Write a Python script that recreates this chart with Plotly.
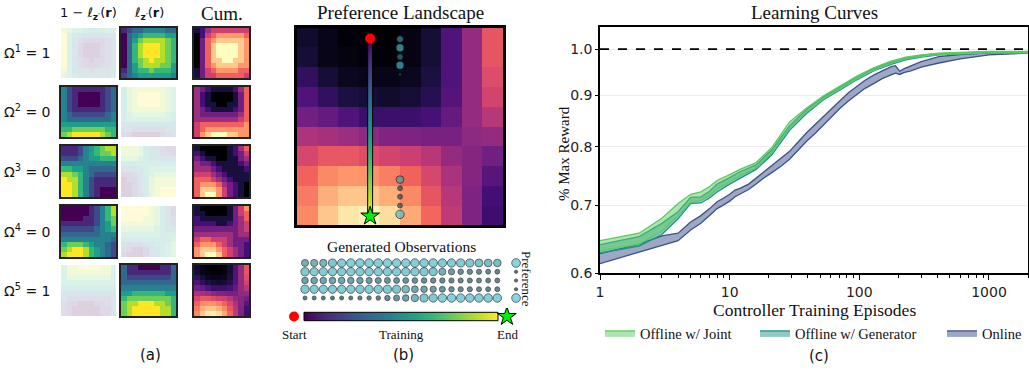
import numpy as np
import plotly.graph_objects as go

W, H = 1029, 371
SERIF = "Liberation Serif"
SANS = "DejaVu Sans"

# ---------------- Panel (a) data ----------------
omega = [1, 0, 0, 0, 1]
# map selected by Omega (bordered map), digits 0-9 (value = d/9)
sel1 = [[1,2,3,3,4,4,4,4,3,3],
        [0,3,4,5,6,6,6,6,5,5],
        [0,3,5,7,8,8,8,8,7,6],
        [0,3,6,8,9,9,9,8,7,6],
        [0,3,6,8,9,9,9,8,7,6],
        [0,3,6,8,9,9,9,8,7,6],
        [0,3,6,7,8,9,8,8,7,6],
        [0,3,5,7,8,8,8,7,7,5],
        [1,3,5,6,6,7,6,6,6,5],
        [2,3,4,5,5,5,5,5,5,4]]
sel2 = [[4,2,1,1,1,1,1,1,2,3],
        [4,2,1,0,0,0,0,1,2,3],
        [4,2,1,0,0,0,0,1,2,3],
        [4,2,1,0,0,0,0,1,2,3],
        [4,2,1,1,1,1,1,1,2,3],
        [4,3,2,2,2,2,2,2,3,4],
        [4,3,3,3,3,3,3,3,3,4],
        [5,5,5,5,5,5,5,5,5,5],
        [6,6,7,7,7,7,7,7,6,6],
        [7,8,9,9,9,9,9,8,7,6]]
sel3 = [[1,1,1,2,4,5,6,7,8,8],
        [1,1,1,2,4,5,6,7,7,8],
        [2,2,2,3,4,5,5,6,6,6],
        [4,4,4,4,4,4,4,4,4,4],
        [6,6,5,5,4,3,3,3,3,3],
        [8,8,7,6,4,3,2,2,2,2],
        [9,8,8,6,4,2,1,1,1,1],
        [9,9,8,6,4,2,1,1,1,1],
        [9,9,8,6,4,2,1,0,0,0],
        [9,9,8,6,4,2,1,0,0,0]]
sel4 = [[0,0,0,0,0,1,2,4,6,8],
        [0,0,0,0,0,1,2,4,6,8],
        [0,0,0,0,1,1,2,4,6,7],
        [1,1,1,1,1,1,2,4,5,7],
        [2,2,2,2,2,2,3,4,5,6],
        [3,3,3,3,3,3,3,4,4,4],
        [4,4,4,4,4,4,4,4,4,3],
        [6,7,7,7,6,5,4,4,3,2],
        [7,8,9,9,8,6,5,4,3,2],
        [8,9,9,9,8,6,5,4,3,2]]
sel5 = [[3,1,1,0,0,0,0,1,1,3],
        [3,1,1,1,1,1,1,1,1,3],
        [3,2,2,2,2,2,2,2,2,3],
        [3,3,3,3,3,3,3,3,3,3],
        [4,4,4,4,4,4,4,4,4,4],
        [5,5,6,6,6,6,6,6,5,5],
        [6,7,7,7,7,7,7,7,7,6],
        [7,8,8,9,9,9,8,8,7,6],
        [7,8,9,9,9,9,9,8,8,6],
        [7,8,9,9,9,9,9,8,8,6]]
cum1 = [[1,2,4,5,5,5,5,5,5,5],
        [0,2,5,6,7,7,7,7,7,6],
        [0,3,6,7,8,8,8,8,8,7],
        [0,3,6,8,9,9,9,9,8,7],
        [0,3,6,8,9,9,9,9,8,7],
        [0,3,6,8,9,9,9,9,8,7],
        [0,3,6,8,8,9,9,8,8,7],
        [0,3,6,7,8,8,8,8,7,7],
        [1,3,5,6,7,7,7,7,6,6],
        [1,3,5,5,6,6,6,6,6,5]]
cum2 = [[4,3,2,1,1,1,1,2,4,6],
        [4,2,1,0,0,0,0,1,3,6],
        [4,2,1,0,0,0,0,1,3,6],
        [4,2,1,1,0,0,1,1,3,6],
        [4,3,2,1,1,1,1,2,3,6],
        [4,3,3,3,3,3,3,3,4,6],
        [4,4,4,4,4,4,4,4,5,6],
        [5,6,6,6,6,6,6,6,6,7],
        [5,6,7,7,7,7,7,7,7,7],
        [5,7,8,9,9,9,8,8,7,7]]
cum3 = [[1,0,0,0,0,0,1,2,4,6],
        [2,1,0,0,0,0,1,2,3,5],
        [3,2,1,1,0,0,1,1,3,4],
        [4,3,3,2,1,1,1,1,2,3],
        [4,4,4,3,2,1,1,1,1,2],
        [5,5,5,4,3,2,1,1,1,1],
        [6,6,6,5,4,3,2,1,1,1],
        [6,7,7,7,6,4,3,2,1,0],
        [6,8,8,8,7,5,3,2,1,0],
        [6,8,9,9,7,5,3,2,1,0]]
cum4 = [[1,0,0,0,0,0,1,3,5,7],
        [1,1,0,0,0,0,1,3,5,6],
        [2,1,1,1,1,1,1,3,4,6],
        [2,2,2,2,1,1,2,3,4,5],
        [3,3,3,3,3,3,3,3,4,5],
        [4,4,4,4,4,4,4,3,4,4],
        [5,6,6,5,5,5,4,3,3,3],
        [6,7,7,7,6,5,4,3,3,2],
        [7,8,8,8,7,6,5,4,3,2],
        [7,8,9,9,8,6,5,4,3,2]]

# ---------------- Panel (b) data ----------------
landscape = [
    [0.08,0.04,0.01,0.00,0.00,0.03,0.10,0.25,0.42,0.63],
    [0.10,0.04,0.02,0.01,0.01,0.03,0.10,0.25,0.42,0.63],
    [0.18,0.10,0.05,0.04,0.04,0.05,0.12,0.25,0.42,0.60],
    [0.25,0.18,0.12,0.10,0.08,0.10,0.15,0.26,0.42,0.57],
    [0.33,0.30,0.25,0.20,0.20,0.20,0.23,0.30,0.42,0.50],
    [0.48,0.46,0.44,0.40,0.37,0.36,0.35,0.35,0.40,0.42],
    [0.58,0.64,0.64,0.60,0.57,0.55,0.50,0.42,0.38,0.33],
    [0.67,0.75,0.78,0.77,0.73,0.67,0.58,0.47,0.38,0.27],
    [0.72,0.83,0.88,0.88,0.83,0.75,0.63,0.50,0.36,0.22],
    [0.75,0.88,0.95,0.98,0.93,0.82,0.68,0.52,0.36,0.20]]
path_x = 3.05
path_start_y = 0.06
path_end_y = 9.05
obs_x = 4.5
obs_top_y = [0.09, 0.53, 0.99, 1.41, 1.88]
obs_bottom_y = [7.20, 7.64, 8.07, 8.52, 8.96]

obs_row1 = [0.70,0.72,0.75,0.88,0.92,0.95,0.95,0.95,0.95,0.95,0.95,0.95,0.95,0.95,0.95,0.93,0.92,0.90,0.88,0.85,0.82,0.80]
obs_row2 = [0.90,0.92,0.92,0.92,0.92,0.92,0.92,0.92,0.92,0.92,0.92,0.92,0.92,0.90,0.88,0.70,0.55,0.42,0.38,0.35,0.32,0.30]
obs_row3 = [0.60,0.62,0.62,0.62,0.62,0.60,0.58,0.55,0.52,0.50,0.48,0.46,0.44,0.42,0.40,0.38,0.36,0.34,0.33,0.32,0.31,0.30]
obs_row4 = [0.90,0.92,0.92,0.92,0.92,0.92,0.92,0.92,0.92,0.90,0.88,0.80,0.65,0.60,0.55,0.50,0.40,0.36,0.34,0.32,0.31,0.30]
obs_row5 = [0.15,0.15,0.15,0.15,0.15,0.15,0.18,0.20,0.25,0.40,0.50,0.60,0.75,0.88,0.92,0.95,0.95,0.95,0.95,0.95,0.95,0.95]
preference = [1, 0, 0, 0, 1]

# ---------------- Panel (c) data ----------------
ep_off = [1,2,3,4,5,6,7,8,10,12,16,21,29,39,53,71,95,130,176,228,300,411,600,1000,2000]
joint_hi = [0.646,0.657,0.680,0.703,0.718,0.722,0.731,0.741,0.751,0.760,0.772,0.798,0.847,0.874,0.899,0.919,0.940,0.959,0.973,0.982,0.987,0.991,0.993,0.995,0.995]
joint_lo = [0.631,0.641,0.660,0.684,0.705,0.708,0.716,0.727,0.739,0.749,0.763,0.789,0.836,0.866,0.893,0.913,0.934,0.954,0.968,0.978,0.984,0.988,0.990,0.992,0.992]
gen_hi = [0.640,0.652,0.672,0.690,0.713,0.714,0.723,0.735,0.746,0.756,0.768,0.794,0.840,0.871,0.897,0.917,0.938,0.957,0.971,0.980,0.986,0.990,0.992,0.994,0.994]
gen_lo = [0.628,0.638,0.655,0.679,0.703,0.704,0.712,0.722,0.735,0.745,0.760,0.785,0.831,0.863,0.891,0.911,0.932,0.952,0.966,0.976,0.982,0.987,0.989,0.991,0.991]
ep_on = [1,2,3,4,5,6,7,8,9,10,11,12,14,16,18,21,25,29,34,39,46,53,62,71,82,95,110,130,150,176,190,205,220,250,300,411,600,1000,1500,2000]
online_hi = [0.627,0.641,0.653,0.657,0.674,0.684,0.695,0.706,0.712,0.718,0.725,0.728,0.735,0.745,0.754,0.765,0.779,0.792,0.810,0.826,0.843,0.858,0.875,0.891,0.905,0.918,0.931,0.943,0.952,0.961,0.963,0.951,0.956,0.962,0.972,0.983,0.988,0.992,0.993,0.994]
online_lo = [0.613,0.629,0.639,0.646,0.662,0.672,0.684,0.695,0.701,0.707,0.714,0.718,0.726,0.735,0.744,0.754,0.766,0.778,0.795,0.810,0.826,0.841,0.858,0.874,0.888,0.901,0.914,0.925,0.935,0.943,0.947,0.944,0.948,0.952,0.960,0.969,0.978,0.987,0.990,0.991]
x_ticks = [1, 10, 100, 1000]
y_ticks = [0.6, 0.7, 0.8, 0.9, 1.0]
max_reward = 1.0

# ---------------- figure ----------------
fig = go.Figure()
axn = [0]

def new_axes(x0, x1, y0, y1):
    axn[0] += 1
    n = axn[0]
    s = "" if n == 1 else str(n)
    xk, yk = "xaxis" + s, "yaxis" + s
    fig.update_layout({
        xk: dict(domain=[x0 / W, x1 / W], anchor="y" + s),
        yk: dict(domain=[1 - y1 / H, 1 - y0 / H], anchor="x" + s),
    })
    return "x" + s, "y" + s, xk, yk

def heat_axes(x0, x1, y0, y1, border, lw=2, lc="#222"):
    xn, yn, xk, yk = new_axes(x0, x1, y0, y1)
    common = dict(showgrid=False, zeroline=False, showticklabels=False, ticks="",
                  showline=border, mirror=border, linewidth=lw, linecolor=lc)
    fig.update_layout({xk: dict(range=[-0.5, 9.5], **common),
                       yk: dict(range=[9.5, -0.5], **common)})
    return xn, yn

cols_x = [(61, 116), (121, 176), (194, 249)]
rows_y = [(28, 78), (87, 137), (146, 197), (206, 257), (265, 316)]
sels = [sel1, sel2, sel3, sel4, sel5]
cums = [np.array(cum1) / 9, np.array(cum2) / 9, np.array(cum3) / 9, np.array(cum4) / 9,
        np.array(landscape)]

for k in range(5):
    s = np.array(sels[k]) / 9.0
    if omega[k] == 1:
        maps = [(1 - s, False), (s, True)]
    else:
        maps = [(s, True), (1 - s, False)]
    y0, y1 = rows_y[k]
    for c in range(2):
        z, active = maps[c]
        xn, yn = heat_axes(cols_x[c][0], cols_x[c][1], y0, y1, active)
        fig.add_trace(go.Heatmap(z=z, colorscale="Viridis", zmin=0, zmax=1, showscale=False,
                                 opacity=1.0 if active else 0.18, xaxis=xn, yaxis=yn,
                                 hoverinfo="skip"))
    xn, yn = heat_axes(cols_x[2][0], cols_x[2][1], y0, y1, True)
    fig.add_trace(go.Heatmap(z=cums[k], colorscale="Magma", zmin=0, zmax=1, showscale=False,
                             xaxis=xn, yaxis=yn, hoverinfo="skip"))

# ---- panel (b) landscape ----
dot_scale = [[0, "#163036"], [0.5, "#2b6b74"], [1, "#52c6d4"]]

def dot_marker(vals):
    v = np.array(vals, dtype=float)
    return dict(size=3.2 + 5.5 * v, color=v, colorscale=dot_scale, cmin=0, cmax=1,
                line=dict(color="black", width=0.8))

xn, yn = heat_axes(297, 503, 27.5, 225, True, lw=3, lc="black")
fig.add_trace(go.Heatmap(z=landscape, colorscale="Magma", zmin=0, zmax=1, showscale=False,
                         xaxis=xn, yaxis=yn, hoverinfo="skip"))
hw = 0.12
fig.add_trace(go.Scatter(
    x=[path_x - hw, path_x + hw, path_x + hw, path_x - hw, path_x - hw],
    y=[path_start_y, path_start_y, path_end_y, path_end_y, path_start_y],
    mode="lines", fill="toself", line=dict(color="black", width=1),
    fillgradient=dict(type="vertical", colorscale="Viridis", start=path_start_y, stop=path_end_y),
    xaxis=xn, yaxis=yn, showlegend=False, hoverinfo="skip"))
first_col = [r[0] for r in (obs_row1, obs_row2, obs_row3, obs_row4, obs_row5)]
last_col = [r[-1] for r in (obs_row1, obs_row2, obs_row3, obs_row4, obs_row5)]
fig.add_trace(go.Scatter(x=[obs_x] * 5, y=obs_top_y, mode="markers", marker=dot_marker(first_col),
                         xaxis=xn, yaxis=yn, showlegend=False, hoverinfo="skip"))
fig.add_trace(go.Scatter(x=[obs_x] * 5, y=obs_bottom_y, mode="markers", marker=dot_marker(last_col),
                         xaxis=xn, yaxis=yn, showlegend=False, hoverinfo="skip"))
fig.add_trace(go.Scatter(x=[path_x], y=[path_start_y], mode="markers",
                         marker=dict(color="#ff0000", size=10), xaxis=xn, yaxis=yn,
                         showlegend=False, hoverinfo="skip"))
fig.add_trace(go.Scatter(x=[path_x], y=[path_end_y], mode="markers",
                         marker=dict(color="#00ee00", size=14, symbol="star",
                                     line=dict(color="black", width=1)),
                         xaxis=xn, yaxis=yn, showlegend=False, hoverinfo="skip"))

# ---- panel (b) generated observations ----
xn, yn, xk, yk = new_axes(285, 545, 255, 305)
fig.update_layout({xk: dict(range=[(285 - 305) / 9.157, (545 - 305) / 9.157], visible=False),
                   yk: dict(range=[(305 - 263) / 8.75, (255 - 263) / 8.75], visible=False)})
gx, gy, gv = [], [], []
for r, row in enumerate((obs_row1, obs_row2, obs_row3, obs_row4, obs_row5)):
    for i, v in enumerate(row):
        gx.append(i); gy.append(r); gv.append(v)
fig.add_trace(go.Scatter(x=gx, y=gy, mode="markers", marker=dot_marker(gv),
                         xaxis=xn, yaxis=yn, showlegend=False, hoverinfo="skip"))
fig.add_trace(go.Scatter(x=[23.05] * 5, y=list(range(5)), mode="markers",
                         marker=dot_marker(preference), xaxis=xn, yaxis=yn,
                         showlegend=False, hoverinfo="skip"))

# ---- panel (b) training colour bar ----
xn, yn, xk, yk = new_axes(285, 545, 308, 328)
fig.update_layout({xk: dict(range=[(285 - 304) / 194, (545 - 304) / 194], visible=False),
                   yk: dict(range=[0, 1], visible=False)})
fig.add_trace(go.Scatter(x=[0, 1, 1, 0, 0], y=[0.365, 0.365, 0.785, 0.785, 0.365],
                         mode="lines", fill="toself", line=dict(color="black", width=1),
                         fillgradient=dict(type="horizontal", colorscale="Viridis", start=0, stop=1),
                         xaxis=xn, yaxis=yn, showlegend=False, hoverinfo="skip"))
fig.add_trace(go.Scatter(x=[-0.0515], y=[0.575], mode="markers",
                         marker=dict(color="#ff0000", size=10), xaxis=xn, yaxis=yn,
                         showlegend=False, hoverinfo="skip"))
fig.add_trace(go.Scatter(x=[1.046], y=[0.575], mode="markers",
                         marker=dict(color="#00ee00", size=14, symbol="star",
                                     line=dict(color="black", width=1)),
                         xaxis=xn, yaxis=yn, showlegend=False, hoverinfo="skip"))

# ---- panel (c) learning curves ----
xn, yn, xk, yk = new_axes(600, 1028, 27, 273)
fig.update_layout({
    xk: dict(type="log", range=[0, np.log10(2000)], tickvals=x_ticks,
             ticktext=[str(t) for t in x_ticks], ticks="outside", ticklen=5, tickwidth=1,
             tickcolor="black", showline=True, linecolor="black", linewidth=1.5, mirror=True,
             showgrid=False, zeroline=False,
             minor=dict(tickvals=[m * d for d in (1, 10, 100) for m in range(2, 10)] + [2000],
                        ticks="outside", ticklen=3, tickcolor="black", showgrid=False),
             tickfont=dict(family=SANS, size=14, color="#222")),
    yk: dict(type="log", range=[np.log10(0.6), np.log10(1.052)], tickvals=y_ticks,
             ticktext=["%.1f" % t for t in y_ticks], ticks="outside", ticklen=3,
             tickcolor="black", showline=True, linecolor="black", linewidth=1.5, mirror=True,
             showgrid=True, gridcolor="#ececec", zeroline=False,
             tickfont=dict(family=SANS, size=14, color="#222")),
})
series = [
    ("Online", ep_on, online_lo, online_hi, "#3b528b", "rgba(59,82,139,0.5)", "legend3"),
    ("Offline w/ Generator", ep_off, gen_lo, gen_hi, "#21918c", "rgba(33,145,140,0.5)", "legend2"),
    ("Offline w/ Joint", ep_off, joint_lo, joint_hi, "#5ec962", "rgba(94,201,98,0.5)", "legend"),
]
for name, ex, lo, hi, lc, fc, lg in series:
    fig.add_trace(go.Scatter(x=ex, y=lo, mode="lines", line=dict(color=lc, width=1.3),
                             xaxis=xn, yaxis=yn, showlegend=False, hoverinfo="skip"))
    fig.add_trace(go.Scatter(x=ex, y=hi, mode="lines", line=dict(color=lc, width=1.3),
                             fill="tonexty", fillcolor=fc, name=name, legend=lg,
                             xaxis=xn, yaxis=yn, hoverinfo="skip"))
fig.add_trace(go.Scatter(x=[1, 2000], y=[max_reward, max_reward], mode="lines",
                         line=dict(color="black", width=1.8, dash="dash"),
                         xaxis=xn, yaxis=yn, showlegend=False, hoverinfo="skip"))

# ---- text ----
def ann(text, x, y, size, family, **kw):
    d = dict(text=text, x=x / W, y=1 - y / H, xref="paper", yref="paper", showarrow=False,
             xanchor="center", yanchor="middle",
             font=dict(family=family, size=size, color=kw.pop("color", "#111")))
    d.update(kw)
    return d

anns = [
    ann("1 − ℓ<sub><b>z</b>′</sub>(<b>r</b>)", 88.5, 14, 13, SANS),
    ann("ℓ<sub><b>z</b>′</sub>(<b>r</b>)", 148.5, 14, 13, SANS),
    ann("Cum.", 222, 13, 19, SERIF),
    ann("(a)", 150, 355, 15, SANS),
    ann("Preference Landscape", 400, 12, 19, SERIF),
    ann("Generated Observations", 401, 246.5, 15.5, SERIF),
    ann("Preference", 527, 279, 13, SERIF, textangle=90),
    ann("Start", 294, 334, 13, SERIF),
    ann("Training", 401, 334, 13, SERIF),
    ann("End", 507, 334, 13, SERIF),
    ann("(b)", 403, 355, 15, SANS),
    ann("Learning Curves", 814, 12, 19, SERIF),
    ann("Controller Training Episodes", 814, 310, 17.5, SERIF),
    ann("% Max Reward", 564, 154, 15, SERIF, textangle=-90),
    ann("(c)", 819, 356, 15, SANS),
]
for k in range(5):
    yc = (rows_y[k][0] + rows_y[k][1]) / 2 - 1
    anns.append(ann("Ω<sup>%d</sup> = %d" % (k + 1, omega[k]), 52, yc, 14, SANS,
                    xanchor="right"))

def legend_at(xpx):
    return dict(orientation="h", x=xpx / W, xanchor="left", y=1 - 333 / H, yanchor="middle",
                font=dict(family=SERIF, size=14.5, color="#111"), itemwidth=30,
                bgcolor="rgba(0,0,0,0)", borderwidth=0)

fig.update_layout(
    width=W, height=H, margin=dict(l=0, r=0, t=0, b=0, autoexpand=False),
    paper_bgcolor="white", plot_bgcolor="white",
    annotations=anns,
    showlegend=True,
    legend=legend_at(600),
    legend2=legend_at(755),
    legend3=legend_at(942),
)

fig.write_html("out.html", config={"displayModeBar": False},
               post_script="document.body.style.margin='0';"
                           "document.body.style.overflow='hidden';")
